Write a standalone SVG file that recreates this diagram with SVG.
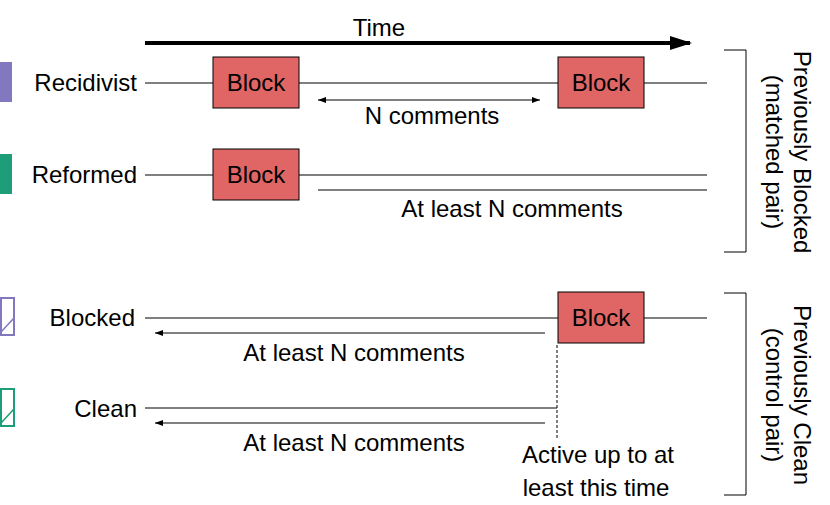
<svg xmlns="http://www.w3.org/2000/svg" width="830" height="505" viewBox="0 0 830 505">
<style>
text{font-family:"Liberation Sans",Arial,sans-serif;font-size:24px;fill:#000}
.l{stroke:#000;stroke-width:1;fill:none}
.g{stroke:#555;stroke-width:1.3;fill:none}
.b rect{fill:#e06666;stroke:#000;stroke-width:1}
.a{stroke:#000;stroke-width:1;marker-end:url(#ah)}
.a2{stroke:#000;stroke-width:1;marker-start:url(#ahs);marker-end:url(#ah)}
</style>
<defs>
<marker id="ah" markerWidth="8" markerHeight="6" refX="8" refY="3" orient="auto" markerUnits="userSpaceOnUse"><path d="M0,0L8,3L0,6z" fill="#000"/></marker>
<marker id="ahs" markerWidth="8" markerHeight="6" refX="0" refY="3" orient="auto" markerUnits="userSpaceOnUse"><path d="M8,0L0,3L8,6z" fill="#000"/></marker>
<marker id="big" markerWidth="22" markerHeight="14" refX="20" refY="7" orient="auto" markerUnits="userSpaceOnUse"><path d="M0,0L22,7L0,14z" fill="#000"/></marker>
</defs>
<g id="connectors">
<line x1="145" y1="43" x2="690" y2="43" stroke="#000" stroke-width="4" marker-end="url(#big)"/>
<line class="l" x1="145" y1="83" x2="707" y2="83"/>
<line class="a2" x1="318" y1="100" x2="540" y2="100"/>
<line class="g" x1="145" y1="175" x2="707" y2="175"/>
<line class="g" x1="318" y1="190" x2="707" y2="190"/>
<line class="l" x1="145" y1="318" x2="707" y2="318"/>
<line class="a" x1="545" y1="333" x2="155" y2="333"/>
<line class="l" x1="145" y1="408" x2="557" y2="408"/>
<line class="a" x1="545" y1="423" x2="155" y2="423"/>
<line x1="557" y1="345" x2="557" y2="440" stroke="#000" stroke-width="1" stroke-dasharray="3,2"/>
<path class="l" d="M724,50H746V252H724"/>
<path class="l" d="M724,293H746V495H724"/>
</g>
<g id="legend">
<rect x="0" y="62" width="12" height="40" fill="#8278c0"/>
<rect x="0" y="154" width="12" height="40" fill="#1e9e78"/>
<rect x="1" y="298" width="13" height="37" fill="none" stroke="#8278c0" stroke-width="2"/>
<line x1="1" y1="332" x2="14" y2="318" stroke="#8278c0" stroke-width="1.5"/>
<rect x="1" y="389" width="13" height="37" fill="none" stroke="#1e9e78" stroke-width="2"/>
<line x1="1" y1="423" x2="14" y2="409" stroke="#1e9e78" stroke-width="1.5"/>
</g>
<g id="b1" class="b"><rect x="213" y="57" width="86" height="51"/><text x="256" y="91" text-anchor="middle">Block</text></g>
<g id="b2" class="b"><rect x="558" y="57" width="86" height="51"/><text x="601" y="91" text-anchor="middle">Block</text></g>
<g id="b3" class="b"><rect x="213" y="149" width="86" height="51"/><text x="256" y="183" text-anchor="middle">Block</text></g>
<g id="b4" class="b"><rect x="558" y="292" width="86" height="51"/><text x="601" y="326" text-anchor="middle">Block</text></g>
<g id="labels">
<text x="379" y="36" text-anchor="middle">Time</text>
<text x="137" y="91" text-anchor="end">Recidivist</text>
<text x="137" y="183" text-anchor="end">Reformed</text>
<text x="135" y="326" text-anchor="end">Blocked</text>
<text x="137" y="417" text-anchor="end">Clean</text>
<text x="432" y="124" text-anchor="middle">N comments</text>
<text x="512" y="217" text-anchor="middle">At least N comments</text>
<text x="354" y="361" text-anchor="middle">At least N comments</text>
<text x="354" y="451" text-anchor="middle">At least N comments</text>
<text x="598" y="463" text-anchor="middle">Active up to at</text>
<text x="596" y="496" text-anchor="middle">least this time</text>
<text transform="translate(794,152) rotate(90)" text-anchor="middle">Previously Blocked</text>
<text transform="translate(766,152) rotate(90)" text-anchor="middle">(matched pair)</text>
<text transform="translate(794,395) rotate(90)" text-anchor="middle">Previously Clean</text>
<text transform="translate(766,395) rotate(90)" text-anchor="middle">(control pair)</text>
</g>
</svg>
